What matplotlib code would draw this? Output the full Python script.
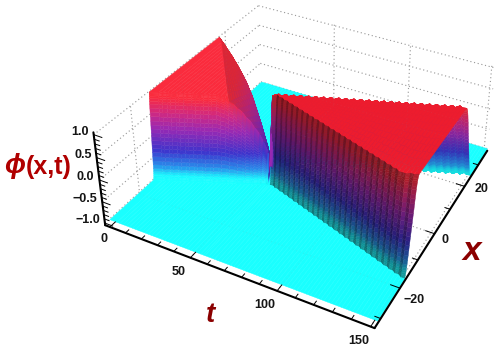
import numpy as np
import matplotlib
matplotlib.use('Agg')
import matplotlib.pyplot as plt
from matplotlib.colors import LinearSegmentedColormap
from mpl_toolkits.mplot3d import proj3d

# Data: one row of the sheet per t
t_rows = [-2.5, 2, 4, 6, 8, 10, 12, 14, 16, 18, 20, 22, 24, 26, 28, 30, 32, 34, 36, 38,
          40, 42, 44, 46, 48, 50, 52, 54, 55.5,
          56.5, 58.4, 60.2, 62.1, 64, 65.9, 67.7, 69.6, 71.5, 73.3, 75.2, 77.1, 78.9, 80.8, 82.7,
          84.6, 86.4, 88.3, 90.2, 92, 93.9, 95.8, 97.6, 99.5, 101.4, 103.3, 105.1, 107, 108.9,
          110.7, 112.6, 114.5, 116.3, 118.2, 120.1, 122, 123.8, 125.7, 127.6, 129.4, 131.3,
          133.2, 135, 136.9, 138.8, 140.7, 142.5, 144.4, 146.3, 148.1, 150, 152]
near_foot = [-14.6, -13.65, -13.5, -12.85, -12.7, -12.05, -11.9, -11.25, -11.1, -10.45, -10.3,
             -9.65, -9.5, -8.85, -8.7, -8.05, -7.9, -7.25, -7.1, -6.45, -6.3, -5.65, -5.5, -4.85,
             -4.7, -4.05, -3.9, -3.25, -3.2,
             -3.0, -2.97, -3.61, -3.56, -4.2, -4.15, -4.79, -4.74, -5.38, -5.33, -5.98, -5.92,
             -6.57, -6.51, -7.16, -7.1, -7.75, -7.69, -8.34, -8.28, -8.93, -8.88, -9.52, -9.47,
             -10.11, -10.06, -10.7, -10.65, -11.29, -11.24, -11.89, -11.83, -12.48, -12.42,
             -13.07, -13.01, -13.66, -13.6, -14.25, -14.19, -14.84, -14.79, -15.43, -15.38,
             -16.02, -15.97, -16.61, -16.56, -17.2, -17.15, -17.8, -17.75]
near_width = [1.5] * 29 + [3.2] * 48 + [3.8, 4.4, 5.0, 5.6]
# crease of the first plateau: flat on its low x side, falling away on the other
crease = [16.9, 14.8, 13.6, 12.4, 11.1, 9.9, 8.7, 7.5, 6.3, 5.0, 3.8, 2.6, 1.4, 0.2, -1.1, -2.3, -3.5, -4.7]
far_top = [16.9, 15.4, 14.8, 14.1, 13.4, 12.8, 12.1, 11.5, 10.8, 10.1, 9.5, 8.8, 8.1, 7.5, 6.8, 6.2,
           5.5, 4.8, 4.2, 3.5, 2.8, 2.2, 1.5, 0.9, 0.2, -0.5, -1.1, -1.8, -2.0,
           -0.6, 0.65, 0.08, 1.31, 0.74, 1.97, 1.41, 2.64, 2.07, 3.3, 2.73, 3.96, 3.39, 4.62, 4.05,
           5.29, 4.72, 5.95, 5.38, 6.61, 6.04, 7.27, 6.7, 7.93, 7.36, 8.6, 8.03, 9.26, 8.69, 9.92,
           9.35, 10.58, 10.01, 11.24, 10.67, 11.91, 11.34, 12.57, 12.0, 13.23, 12.66, 13.89, 13.32,
           14.55, 13.98, 15.22, 14.65, 15.88, 15.31, 16.54, 15.97, 16.3]
far_width = [4] * 29 + [8] * 52
# height of the sheet at the top of the near wall and of the far wall
near_peak = [1] * 16 + [0.97, 0.92, 0.87, 0.8, 0.72, 0.63, 0.53, 0.42, 0.3, 0.15, 0, -0.25, -0.6] + [1] * 52
far_peak = [1, 0.99, 0.98, 0.97, 0.96, 0.95, 0.94, 0.93, 0.91, 0.9, 0.88, 0.86, 0.84, 0.81, 0.78, 0.75,
            0.71, 0.66, 0.61, 0.55, 0.47, 0.38, 0.3, 0.2, 0.1, 0, -0.12, -0.3, -0.6] + [1] * 52
# wall profile: fraction across the wall, fraction of the height
wall_s = [0, .025, .05, .075, .1, .13, .16, .19, .22, .255, .29, .325, .36, .395, .43, .465, .5,
          .535, .57, .605, .64, .675, .71, .745, .78, .81, .84, .87, .9, .925, .95, .975, 1]
wall_h = [0, .005, .01, .02, .03, .05, .07, .1, .13, .175, .22, .27, .32, .365, .41, .455, .5,
          .545, .59, .635, .68, .73, .78, .825, .87, .9, .93, .95, .97, .98, .99, .995, 1]
facet_s = [.1, .2, .3, .4, .5, .6, .7, .8, .9, 1]

t_ticks = [0, 50, 100, 150]
x_ticks = [-20, 0, 20]
z_ticks = [-1.0, -0.5, 0.0, 0.5, 1.0]
t_lo, t_hi = -3, 152
x_lo, x_hi = -33, 37
z_lo, z_hi = -1.05, 1.05

W, H = 500, 349
fig = plt.figure(figsize=(W / 100, H / 100), dpi=100)
ax = fig.add_axes([0, (H - W) / 2 / H, 1, W / H], projection='3d')
ax.set_axis_off()
ax.set_proj_type('ortho')  # the matrix below replaces the camera; this only switches off line clipping
ax.computed_zorder = False

# Camera from the box corners in the picture (pixels)
corners = [(t_lo, x_lo, z_lo, 107, 226), (t_hi, x_lo, z_lo, 373, 329), (t_hi, x_hi, z_lo, 488, 150),
           (t_lo, x_hi, z_lo, 260, 83), (t_lo, x_lo, z_hi, 92, 132), (t_hi, x_hi, z_hi, 495, 67),
           (t_lo, x_hi, z_hi, 259, 4), (t_hi, x_lo, z_hi, 379, 228)]
A = []
for t, x, z, u, v in corners:
    v = H - v
    A.append([t, x, z, 1, 0, 0, 0, 0, -u * t, -u * x, -u * z, -u])
    A.append([0, 0, 0, 0, t, x, z, 1, -v * t, -v * x, -v * z, -v])
P = np.linalg.svd(np.array(A, float))[2][-1].reshape(3, 4)
if P[2] @ [75, 0, 0, 1] < 0:
    P = -P
M = np.array([P[0], P[1], [0, 0, 0, -1], P[2]])
ax.get_proj = lambda: M
ax.M = M
ax.viewLim.intervalx = (0, W)
ax.viewLim.intervaly = ((H - W) / 2, (H + W) / 2)

# Build the sheet
t_rows = np.array(t_rows, float)
near_foot = np.array(near_foot)
far_top = np.array(far_top)
wall_s = np.array(wall_s)
wall_h = np.array(wall_h)
facet_s = np.array(facet_s)
near_top = np.minimum(near_foot + np.array(near_width), far_top)
far_foot = far_top + np.array(far_width)

X, Z = [], []
for i in range(len(t_rows)):
    near_x = near_foot[i] + wall_s * (near_top[i] - near_foot[i])
    near_z = -1 + wall_h * (near_peak[i] + 1)
    # flat part up to the crease, then the falling facet up to the far wall
    crease_x = crease[i] if i < len(crease) else near_top[i]
    crease_x = np.clip(crease_x, near_top[i], far_top[i])
    crease_z = 1 if i < len(crease) else near_peak[i]
    facet_x = crease_x + facet_s * (far_top[i] - crease_x)
    facet_z = crease_z + facet_s * (far_peak[i] - crease_z)
    far_x = far_foot[i] + wall_s[::-1] * (far_top[i] - far_foot[i])
    far_z = -1 + wall_h[::-1] * (far_peak[i] + 1)
    X.append(np.r_[-31.5, near_x, crease_x, facet_x, far_x[1:], x_hi])
    Z.append(np.r_[-1, near_z, crease_z, facet_z, far_z[1:], -1])
X = np.array(X)
Z = np.array(Z)
T = np.repeat(t_rows[:, None], X.shape[1], axis=1)

# Colours by height, darkened by the way each cell faces
surf_cmap = LinearSegmentedColormap.from_list('surf', [
    (0.0, (0.1, 1, 1)), (0.06, (0.1, 0.97, 1)), (0.17, (0.16, 0.55, 0.92)), (0.35, (0.24, 0.2, 0.8)),
    (0.6, (0.6, 0.16, 0.7)), (0.78, (0.82, 0.16, 0.5)), (0.95, (0.98, 0.17, 0.24)), (1.0, (0.98, 0.17, 0.24))])
B = np.stack([T / (t_hi - t_lo), X / (x_hi - x_lo), Z / (z_hi - z_lo)], axis=-1)
normal = -np.cross(B[1:, 1:] - B[:-1, :-1], B[1:, :-1] - B[:-1, 1:])
normal = normal / np.linalg.norm(normal, axis=-1, keepdims=True)
n_t, n_x = normal[..., 0], normal[..., 1]
wedge = t_rows[:-1, None] > 56
shade = np.ones(n_t.shape)
shade = np.where(n_x < -0.05, np.clip(0.85 + n_t, 0.85, 1), shade)
# near wall of the wedge is the dark one, the teeth of the rows give its stripes
shade = np.where(wedge & (n_x < -0.05), np.clip(0.58 + 0.22 * n_t, 0.45, 0.7), shade)
shade = np.where(n_x > 0.05, 0.88, shade)
z_mid = (Z[1:, 1:] + Z[:-1, :-1] + Z[1:, :-1] + Z[:-1, 1:]) / 4
colors = surf_cmap((z_mid + 1) / 2)
colors[..., :3] *= shade[..., None]
# the floor keeps its full cyan, the top of the wedge is a deeper red
colors[z_mid < -0.995] = surf_cmap(0.0)
colors[wedge[:, 0] * 1 == 1] = np.where((z_mid[wedge[:, 0]] > 0.995)[..., None], (0.93, 0.11, 0.18, 1),
                                        colors[wedge[:, 0]])

def dotted(t, x, z, **kw):
    ax.plot(t, x, z, color='#9a9a9a', lw=0.8, ls=(0, (1, 2.4)), **kw)

# Back walls and floor grid, drawn behind and faintly over the surface
for order, al in [(1, 1), (3, 0.08)]:
    for z in z_ticks:
        dotted([t_lo, t_hi], [x_hi, x_hi], [z, z], zorder=order, alpha=al)
        dotted([t_lo, t_lo], [x_lo, x_hi], [z, z], zorder=order, alpha=al)
    for t in t_ticks[1:]:
        dotted([t, t], [x_hi, x_hi], [z_lo, z_hi], zorder=order, alpha=al)
        dotted([t, t], [x_lo, x_hi], [z_lo, z_lo], zorder=order, alpha=al)
    for x in x_ticks:
        dotted([t_lo, t_lo], [x, x], [z_lo, z_hi], zorder=order, alpha=al)
        dotted([t_lo, t_hi], [x, x], [z_lo, z_lo], zorder=order, alpha=al)

ax.plot_surface(T, X, Z, facecolors=colors, shade=False, rstride=1, cstride=1,
                linewidth=0.3, antialiased=True, zorder=2)

# Axis lines and ticks
black = dict(color='black', lw=1.5, zorder=4, solid_capstyle='round')
ax.plot([t_lo, t_hi], [x_lo, x_lo], [z_lo, z_lo], **black)
ax.plot([t_hi, t_hi], [x_lo, x_hi], [z_lo, z_lo], **black)
ax.plot([t_lo, t_lo], [x_lo, x_lo], [z_lo, z_hi], **black)
thin = dict(color='black', lw=0.7, zorder=4)
for t in range(0, 160, 10):
    size = 2.0 if t in t_ticks else 1.2
    ax.plot([t, t], [x_lo, x_lo + size], [z_lo, z_lo], **thin)
for x in range(-30, 40, 10):
    size = 5 if x in x_ticks else 3
    ax.plot([t_hi, t_hi - size], [x, x], [z_lo, z_lo], **thin)
for z in np.arange(-10, 11):
    size = 5 if z % 5 == 0 else 3
    ax.plot([t_lo, t_lo + size], [x_lo, x_lo], [z / 10, z / 10], **thin)

def tick_label(text, point, offset, ha):
    px, py, _ = proj3d.proj_transform(*point, M)
    ax.annotate(text, xy=(float(px), float(py)), xycoords='data', xytext=offset, textcoords='offset pixels',
                ha=ha, va='center', fontsize=9, fontweight='bold', family='Liberation Sans',
                color='#151515', annotation_clip=False)

for t in t_ticks:
    tick_label(str(t), (t, x_lo, z_lo), (-6, -12) if t == 0 else (-12, -14), 'center')
x_offsets = [(4, -12), (7, -6), (10, -3)]
for x, off in zip(x_ticks, x_offsets):
    tick_label(str(x).replace('-', '\u2212'), (t_hi, x, z_lo), off, 'left')
for z in z_ticks:
    tick_label(f'{z:.1f}'.replace('-', '\u2212'), (t_lo, x_lo, z), (-5, 3), 'right')

# Axis titles
title = dict(fontweight='bold', family=['Liberation Sans', 'DejaVu Sans'], ha='center', va='center')
fig.text(15 / W, 1 - 166 / H, '\u03d5', color='#b00000', fontsize=20, style='italic', **title)
fig.text(49 / W, 1 - 167 / H, '(x,t)', color='#b00000', fontsize=18, **title)
fig.text(210 / W, 1 - 315 / H, 't', color='#8b0000', fontsize=20, style='italic', **title)
fig.text(472 / W, 1 - 252 / H, 'x', color='#8b0000', fontsize=24, style='italic', **title)

ax.viewLim.intervalx = (0, W)
ax.viewLim.intervaly = ((H - W) / 2, (H + W) / 2)
fig.savefig('out.png', dpi=100)
